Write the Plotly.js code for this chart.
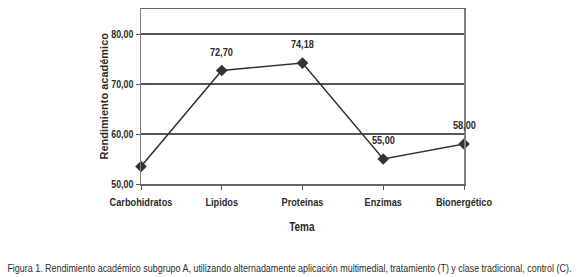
<!DOCTYPE html>
<html>
<head>
<meta charset="utf-8">
<script src="https://cdn.plot.ly/plotly-3.0.1.min.js"></script>
<style>html,body{margin:0;padding:0;background:#fff;}#chart{width:580px;height:277px;}</style>
</head>
<body>
<div id="chart"></div>
<script>
var categories = ["Carbohidratos", "Lipidos", "Proteinas", "Enzimas", "Bionergético"];
var rendimiento = [53.5, 72.70, 74.18, 55.00, 58.00];
var pointLabels = ["", "72,70", "74,18", "55,00", "58,00"];
var yTickVals = [50, 60, 70, 80];
var yTickText = ["50,00", "60,00", "70,00", "80,00"];
var xTitle = "Tema";
var yTitle = "Rendimiento académico";
var caption = "Figura 1. Rendimiento académico subgrupo A, utilizando alternadamente aplicación multimedial, tratamiento (T) y clase tradicional, control (C).";

var font = "'Liberation Sans', Arial, sans-serif";
var ink = "#2b2b2b";

var trace = {
  x: categories,
  y: rendimiento,
  type: "scatter",
  mode: "lines+markers",
  line: {color: "#333", width: 1.5},
  marker: {symbol: "diamond", size: 9, color: "#333"},
  cliponaxis: false,
  hoverinfo: "none"
};

var anns = [];
for (var i = 0; i < categories.length; i++) {
  if (!pointLabels[i]) continue;
  anns.push({
    x: categories[i], y: rendimiento[i], xref: "x", yref: "y",
    text: pointLabels[i], showarrow: false, yshift: 19,
    xanchor: "center", yanchor: "middle",
    font: {family: font, size: 11.5, color: ink, weight: "bold"}
  });
}
anns.push(
  {
    text: yTitle, textangle: -90,
    xref: "paper", yref: "paper",
    x: -0.1176, y: 0.5, xanchor: "center", yanchor: "middle",
    showarrow: false,
    font: {family: font, size: 11, color: ink, weight: "bold"}
  },
  {
    text: xTitle,
    xref: "paper", yref: "paper",
    x: 0.5, y: -0.2457, xanchor: "center", yanchor: "middle",
    showarrow: false,
    font: {family: font, size: 12.5, color: ink, weight: "bold"}
  },
  {
    text: caption,
    xref: "paper", yref: "paper",
    x: 0.4597, y: -0.48, xanchor: "center", yanchor: "middle",
    showarrow: false,
    font: {family: font, size: 11.5, color: ink}
  }
);

var layout = {
  width: 580, height: 277,
  margin: {l: 141, r: 116, t: 9, b: 93},
  paper_bgcolor: "#fff", plot_bgcolor: "#fff",
  showlegend: false,
  xaxis: {
    type: "category",
    range: [0, 4],
    showline: true, linecolor: "#666", linewidth: 1.5,
    mirror: true,
    showgrid: false, zeroline: false,
    ticks: "outside", ticklen: 4, tickcolor: "#555", tickwidth: 1,
    ticklabelstandoff: 3,
    tickfont: {family: font, size: 11.5, color: ink, weight: "bold"}
  },
  yaxis: {
    range: [50, 85],
    tickvals: yTickVals, ticktext: yTickText,
    showline: true, linecolor: "#808080", linewidth: 1.5,
    mirror: true,
    showgrid: true, gridcolor: "#555", gridwidth: 1.5,
    zeroline: false,
    ticks: "outside", ticklen: 4, tickcolor: "#555", tickwidth: 1,
    tickfont: {family: font, size: 11, color: ink, weight: "bold"}
  },
  annotations: anns
};

function squeeze(el, x, k) {
  var prev = el.getAttribute("transform") || "";
  el.setAttribute("transform", (prev + " translate(" + (x * (1 - k)).toFixed(2) + ",0) scale(" + k.toFixed(4) + ",1)").trim());
}

Plotly.newPlot("chart", [trace], layout, {staticPlot: true, displayModeBar: false}).then(function (gd) {
  // imitate the condensed (Arial Narrow-like) typeface of the original
  gd.querySelectorAll("svg text").forEach(function (t) {
    var s = t.textContent;
    if (!s || s === yTitle) return;
    var len = t.getComputedTextLength();
    if (!len) return;
    var k = (s === caption) ? 565 / len : 0.8;
    var x = parseFloat(t.getAttribute("x")) || 0;
    squeeze(t, x, k);
    var bg = t.parentNode && t.parentNode.querySelector("rect.bg");
    if (bg) {
      var w = parseFloat(bg.getAttribute("width")) || 0;
      var bx = parseFloat(bg.getAttribute("x")) || 0;
      squeeze(bg, bx + w / 2, k);
    }
  });
});
</script>
</body>
</html>
